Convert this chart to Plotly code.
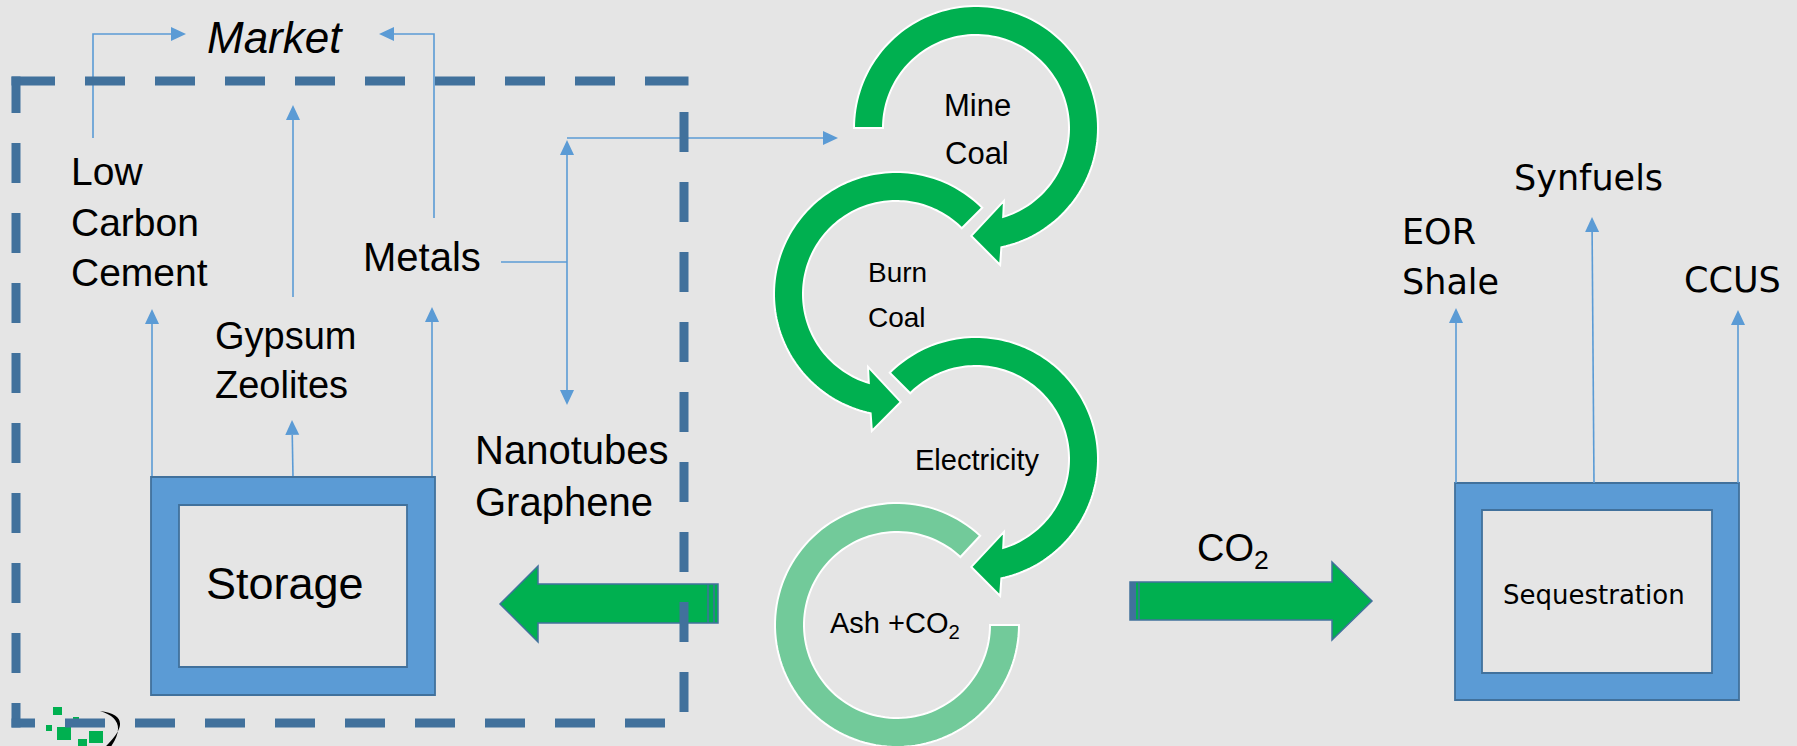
import numpy as np
import plotly.graph_objects as go

# ---------------- diagram content (labels) ----------------
market_label = "Market"
storage_label = "Storage"
ash_products = ["Low<br>Carbon<br>Cement", "Gypsum<br>Zeolites", "Metals", "Nanotubes<br>Graphene"]
cycle_steps = ["Mine<br>Coal", "Burn<br>Coal", "Electricity", "Ash +CO<sub>2</sub>"]
co2_label = "CO<sub>2</sub>"
sequestration_label = "Sequestration"
co2_uses = ["EOR<br>Shale", "Synfuels", "CCUS"]

# ---------------- styling / layout ----------------
W, H = 1797, 746
BG = "#e5e5e5"
GREEN = "#00b050"
LIGHT_GREEN = "rgba(0,176,80,0.5)"
BLUE = "#5b9bd5"
DARK = "#41719c"
LEFT_FONT = "Liberation Sans, Arial, sans-serif"
RIGHT_FONT = "DejaVu Sans, Verdana, sans-serif"

shapes = []
annotations = []


def poly(pts, close=True):
    d = "M " + " L ".join(f"{x:.2f},{y:.2f}" for x, y in pts)
    return d + (" Z" if close else "")


def add_path(d, fill=None, color=None, width=0):
    shapes.append(dict(type="path", path=d, xref="x", yref="y",
                       fillcolor=fill if fill else "rgba(0,0,0,0)",
                       line=dict(color=color if color else "rgba(0,0,0,0)", width=width)))


def add_rect(x0, y0, x1, y1, fill, color=None, width=0):
    shapes.append(dict(type="rect", x0=x0, y0=y0, x1=x1, y1=y1, xref="x", yref="y",
                       fillcolor=fill,
                       line=dict(color=color if color else "rgba(0,0,0,0)", width=width)))


def head(tip, frm, L=15, hw=7, color=BLUE):
    tip = np.array(tip, float)
    frm = np.array(frm, float)
    d = tip - frm
    d /= np.linalg.norm(d)
    n = np.array([-d[1], d[0]])
    base = tip - d * L
    add_path(poly([tip, base + n * hw, base - n * hw]), fill=color)
    return base


def thin_arrow(pts, start_head=False):
    pts = [np.array(p, float) for p in pts]
    base = head(pts[-1], pts[-2])
    line_pts = pts[:-1] + [base]
    if start_head:
        line_pts[0] = head(pts[0], pts[1])
    add_path(poly(line_pts, close=False), color=BLUE, width=1.6)


def thin_line(pts):
    add_path(poly(pts, close=False), color=BLUE, width=1.6)


R_IN, R_OUT = 93, 122


def ring_arrow(cx, cy, tail, mirror=False, with_head=True, end=None, fill=GREEN):
    def P(r, a):
        if mirror:
            a = 180 - a
        t = np.radians(a)
        return (cx + r * np.cos(t), cy - r * np.sin(t))
    pts = []
    if with_head:
        o_end, i_end = -78, -73
    else:
        o_end = i_end = end
    for a in np.linspace(tail, o_end, 120):
        pts.append(P(R_OUT, a))
    if with_head:
        pts += [P(139, -80), P(108, -92.5), P(78, -69)]
    for a in np.linspace(i_end, tail, 120):
        pts.append(P(R_IN, a))
    add_path(poly(pts), fill=fill, color="white", width=2)


def frame_box(x0, y0, x1, y1, t):
    outer = [(x0, y0), (x1, y0), (x1, y1), (x0, y1)]
    inner = [(x0 + t, y0 + t), (x0 + t, y1 - t), (x1 - t, y1 - t), (x1 - t, y0 + t)]
    add_path(poly(outer) + " " + poly(inner), fill=BLUE, color=DARK, width=1.8)


def text(x, y, s, size, family=LEFT_FONT, xanchor="center", align="center"):
    annotations.append(dict(x=x, y=y, xref="x", yref="y", text=s, showarrow=False,
                            xanchor=xanchor, yanchor="middle", align=align,
                            font=dict(family=family, size=size, color="#000000")))


# ---------------- thin blue connector arrows (left) ----------------
thin_arrow([(93, 138), (93, 34), (186, 34)])
thin_arrow([(434, 218), (434, 34), (379, 34)])
thin_arrow([(293, 297), (293, 105)])
thin_arrow([(152, 477), (152, 309)])
thin_arrow([(293, 477), (292, 420)])
thin_arrow([(432, 477), (432, 307)])
thin_line([(501, 262), (567, 262)])
thin_arrow([(567, 140), (567, 405)], start_head=True)
thin_arrow([(567, 138), (838, 138)])

# ---------------- storage box ----------------
frame_box(151, 477, 435, 695, 28)

# ---------------- big green arrows ----------------
add_path(poly([(718, 584), (538, 584), (538, 566), (500, 604), (538, 642), (538, 623), (718, 623)]),
         fill=GREEN, color=DARK, width=1.5)
for xs in (708, 714):
    shapes.append(dict(type="line", x0=xs, x1=xs, y0=584, y1=623, xref="x", yref="y",
                       line=dict(color=DARK, width=1.5)))

add_path(poly([(1130, 582), (1332, 582), (1332, 562), (1372, 601), (1332, 640), (1332, 620), (1130, 620)]),
         fill=GREEN, color=DARK, width=1.5)
add_rect(1130, 582, 1136, 620, DARK)
shapes.append(dict(type="line", x0=1139, x1=1139, y0=582, y1=620, xref="x", yref="y",
                   line=dict(color=DARK, width=1.5)))

# ---------------- circular cycle arrows ----------------
ring_arrow(897, 625, 0, with_head=False, end=-313, fill=LIGHT_GREEN)
ring_arrow(976, 459, 135)
ring_arrow(896, 294, 135, mirror=True)
ring_arrow(976, 128, 180)

# ---------------- sequestration ----------------
frame_box(1455, 483, 1739, 700, 27)
thin_arrow([(1456, 483), (1456, 308)])
thin_arrow([(1594, 483), (1592, 217)])
thin_arrow([(1738, 483), (1738, 310)])

# ---------------- logo (bottom-left) ----------------
for (a, b, c, d) in [(53, 707, 62, 715), (46, 725, 52, 731), (57, 727, 71, 740),
                     (89, 731, 103, 743), (78, 739, 87, 746), (73, 717, 79, 722)]:
    add_rect(a, b, c, d, GREEN)
add_path("M 100,711 Q 138,716 104,748 L 110,748 Q 130,720 100,711 Z", fill="#000000")

# ---------------- dashed boundary ----------------
DW = 4.5
# top edge
for k in range(10):
    x0 = 15 + 70 * k
    x1 = x0 + 40
    if k == 0:
        x0 = 11.5
    if k == 9:
        x1 = 688.5
    add_rect(x0, 81 - DW, x1, 81 + DW, DARK)
# left edge
for k in range(10):
    y0 = 73 + 70 * k
    y1 = min(y0 + 40, 723 + DW)
    if k == 0:
        y0 = 76.5
    add_rect(16 - DW, y0, 16 + DW, y1, DARK)
# bottom edge
for k in range(10):
    x0 = max(-5 + 70 * k, 11.5)
    x1 = -5 + 70 * k + 40
    add_rect(x0, 723 - DW, x1, 723 + DW, DARK)
# right edge
for k in range(9):
    y0 = 112 + 70 * k
    add_rect(684 - DW, y0, 684 + DW, y0 + 40, DARK)

# ---------------- texts ----------------
text(275, 37, "<i>" + market_label + "</i>", 44)
text(69, 222, ash_products[0], 39, xanchor="left", align="left")
text(213, 360, ash_products[1], 38, xanchor="left", align="left")
text(361, 257, ash_products[2], 40, xanchor="left", align="left")
text(473, 476, ash_products[3], 40, xanchor="left", align="left")
text(285, 583, storage_label, 45)

mine = cycle_steps[0].split("<br>")
text(977, 105, mine[0], 31)
text(977, 153, mine[1], 31)
burn = cycle_steps[1].split("<br>")
text(897, 272, burn[0], 28)
text(897, 317, burn[1], 28)
text(977, 460, cycle_steps[2], 29)
text(895, 625, cycle_steps[3], 29)

text(1195, 551, co2_label, 38, xanchor="left", align="left")
text(1594, 595, sequestration_label, 26, family=RIGHT_FONT)
eor = co2_uses[0].split("<br>")
text(1400, 232, eor[0], 35, family=RIGHT_FONT, xanchor="left", align="left")
text(1400, 282, eor[1], 35, family=RIGHT_FONT, xanchor="left", align="left")
text(1588, 178, co2_uses[1], 35, family=RIGHT_FONT)
text(1732, 280, co2_uses[2], 35, family=RIGHT_FONT)

fig = go.Figure()
fig.update_layout(
    width=W, height=H,
    margin=dict(l=0, r=0, t=0, b=0),
    paper_bgcolor=BG, plot_bgcolor=BG,
    xaxis=dict(range=[0, W], visible=False, fixedrange=True),
    yaxis=dict(range=[H, 0], visible=False, fixedrange=True),
    shapes=shapes,
    annotations=annotations,
    showlegend=False,
)
fig.write_html("out.html", config={"displayModeBar": False},
               post_script="document.body.style.margin='0';document.body.style.background='" + BG + "';")
